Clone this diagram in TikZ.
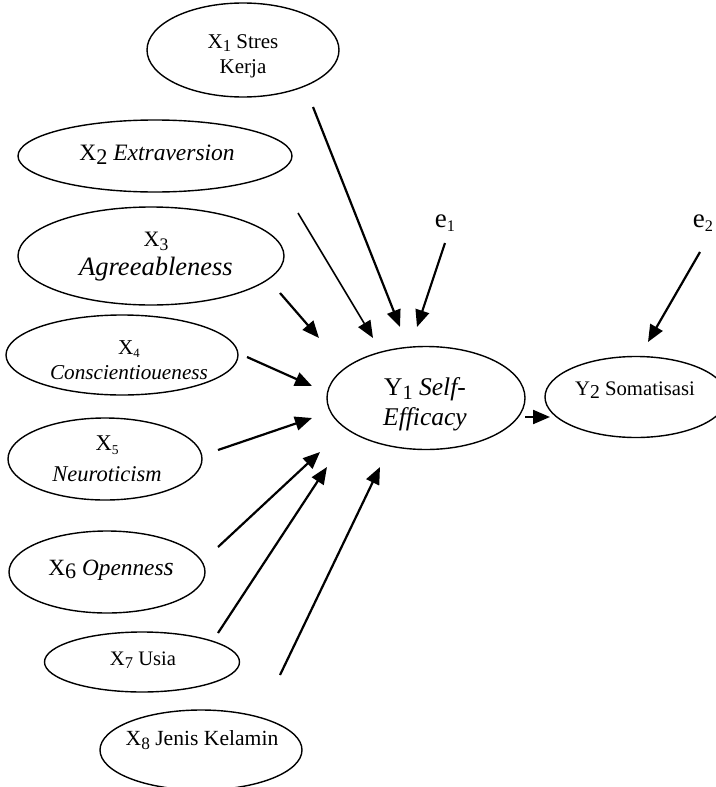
\documentclass[tikz,border=0pt]{standalone}
\usepackage{fontspec}
\usepackage{graphicx}
\setmainfont{Liberation Serif}
\usetikzlibrary{shapes.geometric,arrows.meta}
\newcommand{\lowsub}[2][0.8]{\raisebox{-0.35ex}{\scalebox{#1}{#2}}}
\newcommand{\fs}[2]{\fontsize{#1}{#2}\selectfont}
\begin{document}
\begin{tikzpicture}[x=1pt,y=-1pt,
  oval/.style={ellipse,draw,line width=1.4pt,inner sep=0pt},
  lbl/.style={align=center,inner sep=0pt},
  path/.style={line width=2.2pt,-{Triangle[length=17pt,width=14pt]}}]
\useasboundingbox (0,0) rectangle (715,787);
% ellipses
\node[oval,minimum width=192pt,minimum height=94pt] (x1) at (243,50) {};
\node[oval,minimum width=274pt,minimum height=72pt] (x2) at (155,156) {};
\node[oval,minimum width=266pt,minimum height=98pt] (x3) at (151,256) {};
\node[oval,minimum width=232pt,minimum height=80pt] (x4) at (122,355) {};
\node[oval,minimum width=194pt,minimum height=82pt] (x5) at (105,459) {};
\node[oval,minimum width=196pt,minimum height=82pt] (x6) at (107,572) {};
\node[oval,minimum width=195pt,minimum height=60pt] (x7) at (142,662) {};
\node[oval,minimum width=202pt,minimum height=80pt] (x8) at (201,750) {};
\node[oval,minimum width=198pt,minimum height=103pt] (y1) at (426,398) {};
\node[oval,minimum width=182pt,minimum height=81pt] (y2) at (636,397) {};
% texts
\node[lbl,font=\fs{21}{25}] (x1t) at (243,56) {X\lowsub{1} Stres\\Kerja};
\node[lbl,font=\fs{23.5}{26}] (x2t) at (157,155) {X\lowsub[0.95]{2} \textit{Extraversion}};
\node[lbl,font=\fs{26.5}{29}] (x3t) at (156,257) {\fs{22}{29}X\lowsub{3}\\\textit{Agreeableness}};
\node[lbl,font=\fs{21.2}{25}] (x4t) at (129,360) {X\lowsub[0.6]{4}\\\textit{Conscientioueness}};
\node[lbl,font=\fs{22.5}{31}] (x5t) at (107,459) {X\lowsub[0.6]{5}\\\textit{Neuroticism}};
\node[lbl,font=\fs{23.3}{26}] (x6t) at (111,570) {X\lowsub[0.95]{6} \textit{Opennes{\fs{26}{26}s}}};
\node[lbl,font=\fs{20.6}{24}] (x7t) at (143,660) {X\lowsub{7} Usia};
\node[lbl,font=\fs{21.6}{24}] (x8t) at (202,740) {X\lowsub{8} Jenis Kelamin};
\node[lbl,font=\fs{25.5}{30}] (y1t) at (425,404) {Y\lowsub{1} \textit{Self-}\\\textit{Efficacy}};
\node[lbl,font=\fs{20.7}{24}] (y2t) at (635,390) {Y\lowsub[0.95]{2} Somatisasi};
\node[lbl,font=\fs{27}{27}] (e1) at (445,223) {e\lowsub[0.6]{1}};
\node[lbl,font=\fs{27}{27}] (e2) at (703,223) {e\lowsub[0.6]{2}};
% arrow end points
\coordinate (a1s) at (313,107); \coordinate (a1e) at (400,327);
\coordinate (a2s) at (298,213); \coordinate (a2e) at (373,338);
\coordinate (a3s) at (280,293); \coordinate (a3e) at (319,338);
\coordinate (a4s) at (247,357); \coordinate (a4e) at (312,386);
\coordinate (a5s) at (218,450); \coordinate (a5e) at (312,418);
\coordinate (a6s) at (218,547); \coordinate (a6e) at (320,452);
\coordinate (a7s) at (218,633); \coordinate (a7e) at (327,467);
\coordinate (a8s) at (280,675); \coordinate (a8e) at (380,467);
\coordinate (b1s) at (445,243); \coordinate (b1e) at (417,327);
\coordinate (b2s) at (700,252); \coordinate (b2e) at (648,342);
\coordinate (ys) at (525,417); \coordinate (ye) at (550,417);
% arrows
\draw[path] (a1s) -- (a1e);
\draw[path,line width=1.6pt] (a2s) -- (a2e);
\draw[path] (a3s) -- (a3e);
\draw[path] (a4s) -- (a4e);
\draw[path] (a5s) -- (a5e);
\draw[path] (a6s) -- (a6e);
\draw[path] (a7s) -- (a7e);
\draw[path] (a8s) -- (a8e);
\draw[path] (b1s) -- (b1e);
\draw[path] (b2s) -- (b2e);
\draw[path] (ys) -- (ye);
\end{tikzpicture}
\end{document}
